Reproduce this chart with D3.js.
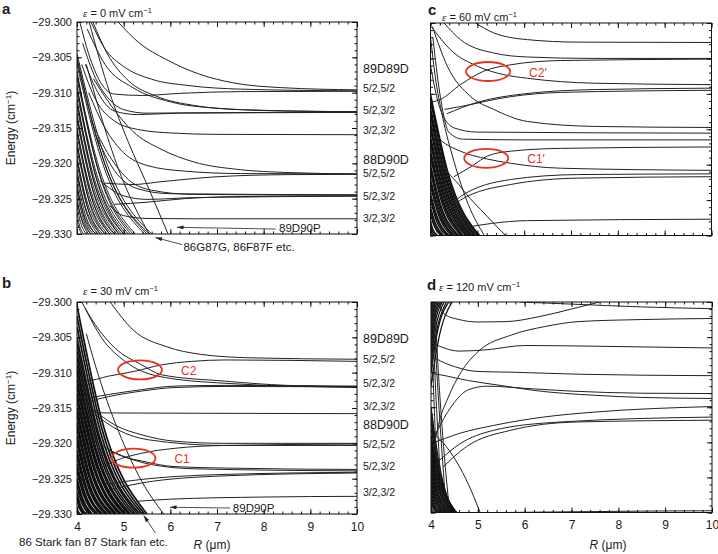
<!DOCTYPE html>
<html>
<head>
<meta charset="utf-8">
<script src="https://cdn.jsdelivr.net/npm/d3@7"></script>
<style>
  body { margin: 0; background: #fff; }
  svg { display: block; }
  text { font-family: 'Liberation Sans', Arial, sans-serif; fill: #1a1a1a; }
</style>
</head>
<body>
<div id="chart"></div>
<script>
// ---------- Data ----------
const xTicks = [4, 5, 6, 7, 8, 9, 10]
const yTicks = [-29.300, -29.305, -29.310, -29.315, -29.320, -29.325, -29.330]

// state labels drawn between the columns (text, energy)
const stateNames = ['89D89D', '5/2,5/2', '5/2,3/2', '3/2,3/2', '88D90D', '5/2,5/2', '5/2,3/2', '3/2,3/2']
const stateEnergyA = [-29.30655, -29.30938, -29.31245, -29.31538, -29.31943, -29.32141, -29.32462, -29.32778]
const stateEnergyB = [-29.30513, -29.3081, -29.3115, -29.3148, -29.3174, -29.3201, -29.3233, -29.3270]

// fields (mV/cm)
const fields = ['0', '30', '60', '120']

// isolated pair potentials [R (um), E (cm^-1)]
const curvesA = [
  [[4.88,-29.3000],[5.34,-29.3030],[5.91,-29.3053],[6.63,-29.3074],[7.34,-29.3086],[8.41,-29.3093],[10,-29.3096]],
  [[4.30,-29.3000],[4.6,-29.3038],[5.0,-29.3063],[5.6,-29.3081],[6.4,-29.3090],[7.5,-29.3095],[10,-29.30975]],
  [[4.06,-29.3000],[4.25,-29.3045],[4.5,-29.3085],[4.8,-29.3102],[5.4,-29.3104],[6.2,-29.3101],[7.5,-29.30985],[10,-29.3098]],
  [[4.34,-29.3000],[4.65,-29.3045],[5.1,-29.3083],[5.7,-29.3105],[6.5,-29.3118],[7.5,-29.3124],[10,-29.3127]],
  [[4.12,-29.3030],[4.4,-29.3080],[4.7,-29.3110],[5.0,-29.3124],[5.5,-29.3129],[6.5,-29.31285],[10,-29.31275]],
  [[4.18,-29.3060],[4.45,-29.3100],[4.8,-29.3126],[5.3,-29.3131],[6.2,-29.3129],[10,-29.3128]],
  [[4.22,-29.3010],[4.6,-29.3060],[5.2,-29.3093],[6,-29.3113],[7,-29.3122],[8.5,-29.3126],[10,-29.3127]],
  [[4.1,-29.3060],[4.4,-29.3110],[4.8,-29.3140],[5.3,-29.3152],[6,-29.3157],[7,-29.3159],[10,-29.31595]],
  [[4.35,-29.3080],[4.75,-29.3120],[5.2,-29.3155],[5.8,-29.3180],[6.5,-29.3198],[7.5,-29.3209],[8.5,-29.3213],[10,-29.3215]],
  [[4.25,-29.3100],[4.6,-29.3150],[5.0,-29.3185],[5.5,-29.3203],[6.3,-29.3211],[7.5,-29.32145],[10,-29.3215]],
  [[4.6,-29.3228],[5.2,-29.3230],[5.8,-29.3226],[7,-29.3219],[8.5,-29.3216],[10,-29.32155]],
  [[4.3,-29.3140],[4.7,-29.3190],[5.1,-29.3223],[5.6,-29.3238],[6.5,-29.3244],[10,-29.3245]],
  [[4.4,-29.3160],[4.8,-29.3210],[5.3,-29.3236],[6,-29.3243],[10,-29.32445]],
  [[4.8,-29.3258],[5.5,-29.3255],[6.3,-29.3250],[7.5,-29.3247],[10,-29.3246]],
  [[4.5,-29.3225],[5.0,-29.3246],[5.5,-29.3251],[6.5,-29.32485],[10,-29.32465]],
  [[4.7,-29.3260],[5.0,-29.3274],[5.5,-29.3278],[6.5,-29.32785],[10,-29.32785]],
  [[4.26,-29.3000],[4.7,-29.3100],[5.1,-29.3170],[5.5,-29.3230],[5.95,-29.3300]],
  [[4.2,-29.3060],[4.5,-29.3130],[4.9,-29.3210],[5.3,-29.3270],[5.55,-29.3300]]
]

const curvesB = [
  [[4.71,-29.3000],[5.21,-29.3040],[5.93,-29.30635],[6.64,-29.3074],[7.71,-29.3079],[10,-29.3081]],
  [[4.1,-29.3000],[4.39,-29.3032],[4.81,-29.3065],[5.39,-29.3089],[5.81,-29.3103],[7.17,-29.3112],[8.5,-29.3118],[10,-29.3120]],
  [[4.17,-29.30085],[4.53,-29.3051],[5.03,-29.3084],[5.74,-29.3105],[7.17,-29.3115],[10,-29.3121]],
  [[4.0,-29.3112],[4.17,-29.3112],[4.67,-29.3105],[5.24,-29.3098],[5.81,-29.3089],[6.46,-29.3084],[7.17,-29.3082],[10,-29.3084]],
  [[4.24,-29.3136],[4.67,-29.3131],[5.39,-29.3124],[6.1,-29.3119],[7.17,-29.3118],[10,-29.3119]],
  [[4.24,-29.3141],[4.67,-29.3134],[5.39,-29.3126],[6.1,-29.3121],[7.17,-29.31195],[10,-29.3120]],
  [[4.05,-29.3130],[4.25,-29.3153],[4.6,-29.3157],[7,-29.31575],[10,-29.3158]],
  [[4.31,-29.3150],[4.81,-29.3174],[5.39,-29.3188],[6.1,-29.3197],[7.17,-29.3200],[10,-29.3200]],
  [[4.38,-29.3159],[4.88,-29.3181],[5.53,-29.3195],[7.17,-29.3203],[10,-29.3203]],
  [[4.38,-29.3240],[4.81,-29.3225],[5.39,-29.3214],[6.1,-29.3207],[7.17,-29.3203],[10,-29.3201]],
  [[4.53,-29.3202],[4.88,-29.3216],[5.39,-29.3225],[6.1,-29.3233],[7.17,-29.3235],[10,-29.3237]],
  [[4.67,-29.3209],[5.39,-29.3227],[6.5,-29.3236],[10,-29.3239]],
  [[4.6,-29.3258],[5.39,-29.3251],[6.1,-29.3247],[7.17,-29.3244],[10,-29.3241]],
  [[4.67,-29.3266],[5.39,-29.3256],[7.17,-29.3246],[10,-29.3242]],
  [[5.3,-29.3282],[6,-29.3279],[8,-29.3276],[10,-29.3275]],
  [[4.2,-29.3045],[4.39,-29.3089],[4.89,-29.3183],[5.39,-29.3254],[5.86,-29.3300]]
]

const curvesC = [
  [[4.96,-29.3000],[5.35,-29.3014],[6.07,-29.30235],[7.14,-29.3027],[10,-29.30275]],
  [[4.29,-29.3000],[4.64,-29.30235],[5.35,-29.30424],[6.07,-29.3048],[7.49,-29.3050],[10,-29.3050]],
  [[4.04,-29.3007],[4.43,-29.3038],[5.0,-29.3061],[5.57,-29.3073],[6.07,-29.3078],[7.49,-29.3085],[10,-29.3087]],
  [[4.0,-29.3112],[4.21,-29.3108],[4.64,-29.3087],[5.14,-29.3068],[5.71,-29.3059],[6.78,-29.3053],[10,-29.3051]],
  [[4.3,-29.3122],[4.64,-29.3118],[5.71,-29.3104],[6.78,-29.3098],[10,-29.3095]],
  [[4.35,-29.3128],[5.0,-29.3112],[6.0,-29.3100],[7.5,-29.3094],[10,-29.3092]],
  [[4.04,-29.3005],[4.36,-29.3061],[4.86,-29.3104],[5.35,-29.3122],[6.07,-29.3139],[7.5,-29.3146],[10,-29.31475]],
  [[4.0,-29.3060],[4.2,-29.3120],[4.5,-29.3148],[5.0,-29.3154],[10,-29.31555]],
  [[4.05,-29.3020],[4.2,-29.3100],[4.4,-29.3155],[4.7,-29.3164],[6,-29.3165],[10,-29.3165]],
  [[4.5,-29.3217],[4.93,-29.3200],[5.21,-29.3188],[5.71,-29.3181],[6.78,-29.3177],[10,-29.3175]],
  [[4.0,-29.3150],[4.21,-29.3165],[4.64,-29.3181],[5.21,-29.3192],[5.71,-29.3198],[6.78,-29.3205],[10,-29.3208]],
  [[4.4,-29.3262],[4.64,-29.3245],[5.71,-29.3221],[7.14,-29.3214],[10,-29.3213]],
  [[4.45,-29.3265],[4.64,-29.3250],[5.71,-29.3228],[7.14,-29.3219],[10,-29.3217]],
  [[4.9,-29.3287],[5.3,-29.3283],[6.07,-29.3279],[10,-29.3277]],
  [[4.0,-29.3140],[4.14,-29.3179],[4.64,-29.3231],[5.21,-29.3273],[5.6,-29.3300]],
  [[4.0,-29.3020],[4.1,-29.3075],[4.25,-29.3130],[4.5,-29.3195],[4.8,-29.3255],[5.15,-29.3300]]
]

const curvesD = [
  [[5.9,-29.3000],[7,-29.3003],[8.5,-29.3007],[10,-29.30095]],
  [[4.15,-29.3000],[4.3,-29.3018],[4.6,-29.3025],[5.0,-29.30285],[5.6,-29.3028],[6.3,-29.3021],[7.0,-29.3010],[7.6,-29.3000]],
  [[4.05,-29.3210],[4.2,-29.3165],[4.36,-29.3137],[4.65,-29.3099],[5.0,-29.3071],[5.72,-29.3047],[6.43,-29.3035],[7.14,-29.3028],[8.5,-29.3025],[10,-29.30235]],
  [[4.0,-29.3203],[4.2,-29.3175],[4.5,-29.3143],[4.8,-29.3125],[5.2,-29.3120],[6,-29.3123],[7,-29.3127],[8.5,-29.3130],[10,-29.31305]],
  [[4.08,-29.3060],[4.3,-29.3066],[4.6,-29.3070],[5.2,-29.3068],[6.0,-29.3062],[7.5,-29.3063],[10,-29.30655]],
  [[4.1,-29.3080],[4.2,-29.3084],[4.5,-29.3092],[5.0,-29.3099],[5.7,-29.3100],[7.2,-29.3103],[10,-29.3105]],
  [[4.05,-29.3102],[4.3,-29.3105],[4.8,-29.3112],[5.5,-29.3119],[6.2,-29.3126],[7.5,-29.3133],[8.5,-29.3136],[10,-29.31375]],
  [[4.01,-29.3202],[4.62,-29.3187],[5.33,-29.3176],[6.4,-29.3164],[7.47,-29.3157],[10,-29.3149]],
  [[4.19,-29.3225],[4.62,-29.3202],[5.33,-29.3183],[6.76,-29.3171],[10,-29.3164]],
  [[4.26,-29.3235],[4.76,-29.3206],[5.69,-29.3183],[7.11,-29.3171],[10,-29.31685]],
  [[5.5,-29.3300],[7,-29.3299],[8.5,-29.3298],[10,-29.32975]],
  [[4.0,-29.3185],[4.25,-29.3200],[4.55,-29.3228],[4.8,-29.3260],[5.05,-29.3300]],
  [[4.01,-29.3000],[4.04,-29.3090],[4.1,-29.3200],[4.16,-29.3300]],
  [[4.03,-29.3000],[4.07,-29.3080],[4.15,-29.3190],[4.25,-29.3300]],
  [[4.05,-29.3000],[4.1,-29.3070],[4.2,-29.3180],[4.33,-29.3300]],
  [[4.08,-29.3000],[4.14,-29.3080],[4.25,-29.3190],[4.4,-29.3300]]
]

// Stark-fan / high-L lines: [E at R=4, R mid, E mid, R where E reaches -29.330]
const fanA = [
  [-29.3045,4.56,-29.3185,5.60],[-29.3050,4.53,-29.3188,5.50],[-29.3060,4.51,-29.3192,5.45],
  [-29.3070,4.40,-29.3197,5.15],[-29.3080,4.42,-29.3201,5.20],[-29.3090,4.35,-29.3206,5.00],
  [-29.3100,4.37,-29.3210,5.05],[-29.3110,4.32,-29.3215,4.90],[-29.3120,4.33,-29.3219,4.95],
  [-29.3130,4.28,-29.3224,4.80],[-29.3140,4.30,-29.3228,4.85],[-29.3150,4.25,-29.3233,4.70],
  [-29.3160,4.26,-29.3237,4.75],[-29.3170,4.21,-29.3242,4.60],[-29.3180,4.23,-29.3246,4.65],
  [-29.3190,4.18,-29.3251,4.50],[-29.3200,4.19,-29.3255,4.55],[-29.3210,4.16,-29.3260,4.45],
  [-29.3220,4.14,-29.3264,4.40],[-29.3230,4.12,-29.3269,4.35],[-29.3240,4.11,-29.3273,4.30],
  [-29.3250,4.09,-29.3278,4.25],[-29.3260,4.07,-29.3282,4.20],[-29.3270,4.05,-29.3287,4.15],
  [-29.3280,4.04,-29.3291,4.10],[-29.3055,4.54,-29.3190,5.55],[-29.3075,4.44,-29.3199,5.25],
  [-29.3095,4.39,-29.3208,5.10],[-29.3115,4.35,-29.3217,5.00],[-29.3135,4.32,-29.3226,4.90],
  [-29.3155,4.28,-29.3235,4.80],[-29.3175,4.25,-29.3244,4.70],[-29.3195,4.21,-29.3253,4.60],
  [-29.3215,4.18,-29.3262,4.50],[-29.3235,4.14,-29.3271,4.40],[-29.3255,4.11,-29.3280,4.30]
]

const fanB = [
  [-29.3005,4.53,-29.3167,5.50],[-29.3020,4.51,-29.3174,5.45],[-29.3035,4.49,-29.3181,5.40],
  [-29.3050,4.47,-29.3188,5.35],[-29.3060,4.46,-29.3192,5.30],[-29.3070,4.44,-29.3197,5.25],
  [-29.3080,4.42,-29.3201,5.20],[-29.3090,4.40,-29.3206,5.15],[-29.3095,4.39,-29.3208,5.12],
  [-29.3100,4.39,-29.3210,5.10],[-29.3110,4.37,-29.3215,5.05],[-29.3115,4.36,-29.3217,5.02],
  [-29.3120,4.35,-29.3219,5.00],[-29.3130,4.33,-29.3224,4.95],[-29.3135,4.32,-29.3226,4.92],
  [-29.3140,4.32,-29.3228,4.90],[-29.3150,4.30,-29.3233,4.85],[-29.3155,4.29,-29.3235,4.82],
  [-29.3160,4.28,-29.3237,4.80],[-29.3170,4.26,-29.3242,4.75],[-29.3175,4.25,-29.3244,4.72],
  [-29.3180,4.25,-29.3246,4.70],[-29.3190,4.23,-29.3251,4.65],[-29.3195,4.22,-29.3253,4.62],
  [-29.3200,4.21,-29.3255,4.60],[-29.3210,4.19,-29.3260,4.55],[-29.3215,4.18,-29.3262,4.52],
  [-29.3220,4.18,-29.3264,4.50],[-29.3230,4.16,-29.3269,4.45],[-29.3235,4.15,-29.3271,4.42],
  [-29.3240,4.14,-29.3273,4.40],[-29.3250,4.12,-29.3278,4.33],[-29.3255,4.11,-29.3280,4.30],
  [-29.3260,4.09,-29.3282,4.27],[-29.3270,4.07,-29.3287,4.20],[-29.3275,4.06,-29.3289,4.16],
  [-29.3280,4.05,-29.3291,4.13],[-29.3290,4.02,-29.3296,4.07]
]

const fanC = [
  [-29.3100,4.37,-29.3210,5.05],[-29.3105,4.36,-29.3212,5.03],[-29.3110,4.35,-29.3215,5.00],
  [-29.3120,4.34,-29.3219,4.96],[-29.3125,4.33,-29.3221,4.94],[-29.3130,4.32,-29.3224,4.92],
  [-29.3140,4.31,-29.3228,4.88],[-29.3145,4.30,-29.3230,4.86],[-29.3150,4.29,-29.3233,4.84],
  [-29.3160,4.28,-29.3237,4.80],[-29.3165,4.27,-29.3239,4.78],[-29.3170,4.26,-29.3242,4.75],
  [-29.3180,4.25,-29.3246,4.70],[-29.3185,4.24,-29.3248,4.68],[-29.3190,4.23,-29.3251,4.65],
  [-29.3200,4.21,-29.3255,4.60],[-29.3205,4.20,-29.3257,4.58],[-29.3210,4.19,-29.3260,4.55],
  [-29.3220,4.18,-29.3264,4.50],[-29.3225,4.17,-29.3266,4.48],[-29.3230,4.16,-29.3269,4.45],
  [-29.3240,4.14,-29.3273,4.40],[-29.3245,4.13,-29.3275,4.38],[-29.3250,4.12,-29.3278,4.35],
  [-29.3260,4.10,-29.3282,4.28],[-29.3265,4.09,-29.3284,4.25],[-29.3270,4.08,-29.3287,4.22],
  [-29.3280,4.05,-29.3291,4.15],[-29.3285,4.04,-29.3293,4.11],[-29.3290,4.03,-29.3296,4.08]
]

const fanD = [
  [-29.3150,4.18,-29.3233,4.50],[-29.3160,4.16,-29.3237,4.47],[-29.3170,4.18,-29.3242,4.50],
  [-29.3180,4.19,-29.3246,4.54],[-29.3190,4.19,-29.3251,4.55],[-29.3195,4.19,-29.3253,4.53],
  [-29.3200,4.18,-29.3255,4.52],[-29.3205,4.18,-29.3257,4.50],[-29.3210,4.17,-29.3260,4.48],
  [-29.3215,4.16,-29.3262,4.46],[-29.3220,4.16,-29.3264,4.45],[-29.3225,4.15,-29.3266,4.42],
  [-29.3230,4.14,-29.3269,4.40],[-29.3235,4.13,-29.3271,4.38],[-29.3240,4.13,-29.3273,4.36],
  [-29.3245,4.12,-29.3275,4.33],[-29.3250,4.11,-29.3278,4.31],[-29.3255,4.10,-29.3280,4.28],
  [-29.3260,4.09,-29.3282,4.26],[-29.3265,4.08,-29.3284,4.23],[-29.3270,4.07,-29.3287,4.20],
  [-29.3275,4.06,-29.3289,4.17],[-29.3280,4.05,-29.3291,4.14],[-29.3285,4.04,-29.3293,4.10],
  [-29.3290,4.02,-29.3296,4.07]
]

// lines climbing out of the top edge: [E at R=4, R mid, E mid, R where E reaches -29.300]
const fanUpD = [
  [-29.3020,4.02,-29.3009,4.06],[-29.3030,4.04,-29.3014,4.10],[-29.3040,4.05,-29.3018,4.13],
  [-29.3050,4.06,-29.3023,4.16],[-29.3060,4.07,-29.3027,4.20],[-29.3070,4.08,-29.3032,4.24],
  [-29.3080,4.10,-29.3036,4.28],[-29.3090,4.12,-29.3041,4.33],[-29.3100,4.13,-29.3045,4.38],
  [-29.3120,4.16,-29.3054,4.45]
]

// avoided crossings marked in red: label, R, E
const crossingsB = [['C2', 5.35, -29.3096], ['C1', 5.21, -29.3221]]
const crossingsC = [['C2\u2032', 5.23, -29.30685], ['C1\u2032', 5.19, -29.3191]]

// ---------- Drawing ----------
const svg = d3.select('#chart')
  .append('svg')
  .attr('width', 718)
  .attr('height', 554)

svg.append('defs').append('marker')
  .attr('id', 'arrow')
  .attr('viewBox', '0 0 10 6')
  .attr('refX', 10)
  .attr('refY', 3)
  .attr('markerWidth', 9)
  .attr('markerHeight', 5)
  .attr('orient', 'auto')
  .append('path')
  .attr('d', 'M0,0L10,3L0,6Z')
  .attr('fill', '#222')

const panels = [
  { key: 'a', left: 77, top: 22, w: 280, h: 212, curves: curvesA, fan: fanA, fanUp: [], fanWidth: 0.9, field: fields[0], yLabels: true, xLabels: false, letter: [2, 14], title: [83, 17] },
  { key: 'b', left: 77, top: 302, w: 280, h: 212, curves: curvesB, fan: fanB, fanUp: [], fanWidth: 1.7, field: fields[1], yLabels: true, xLabels: true, letter: [2, 288], title: [83, 295], rLabel: 212, crossings: crossingsB },
  { key: 'c', left: 430.5, top: 23, w: 281, h: 212.5, curves: curvesC, fan: fanC, fanUp: [], fanWidth: 1.4, field: fields[2], yLabels: false, xLabels: false, letter: [428, 15], title: [442, 21], crossings: crossingsC },
  { key: 'd', left: 431, top: 302, w: 281, h: 210.5, curves: curvesD, fan: fanD, fanUp: fanUpD, fanWidth: 1.3, field: fields[3], yLabels: false, xLabels: true, letter: [427, 290], title: [439, 291], rLabel: 608 }
]

const yMinor = d3.range(0, 31).map(i => -29.300 - i * 0.001)
const xMinor = d3.range(0, 31).map(i => 4 + i * 0.2)
const yFormat = d3.format('.3f')

panels.forEach(p => {
  const xScale = d3.scaleLinear().domain([4, 10]).range([0, p.w])
  const yScale = d3.scaleLinear().domain([-29.300, -29.330]).range([0, p.h])

  const ctr = svg.append('g')
    .attr('transform', `translate(${p.left}, ${p.top})`)

  ctr.append('clipPath')
    .attr('id', 'clip-' + p.key)
    .append('rect')
    .attr('width', p.w)
    .attr('height', p.h)

  const plot = ctr.append('g').attr('clip-path', `url(#clip-${p.key})`)

  const line = d3.line()
    .x(d => xScale(d[0]))
    .y(d => yScale(d[1]))
    .curve(d3.curveMonotoneX)

  const fanLines = p.fan.map(([e0, rm, em, re]) => [[4, e0], [rm, em], [re, -29.330]])
    .concat(p.fanUp.map(([e0, rm, em, re]) => [[4, e0], [rm, em], [re, -29.300]]))

  plot.append('g')
    .selectAll('path')
    .data(fanLines)
    .join('path')
    .attr('d', line)
    .attr('fill', 'none')
    .attr('stroke', '#111')
    .attr('stroke-width', p.fanWidth)

  plot.append('g')
    .selectAll('path')
    .data(p.curves)
    .join('path')
    .attr('d', line)
    .attr('fill', 'none')
    .attr('stroke', '#222')
    .attr('stroke-width', 1)

  // Axes: inward ticks on all four sides
  const addAxis = (axis, transform) => {
    const g = ctr.append('g').attr('transform', transform).call(axis)
    g.select('.domain').remove()
    g.selectAll('.tick line').attr('stroke', '#111')
    g.selectAll('.tick text').style('font-size', '11px').attr('fill', '#1a1a1a')
    return g
  }

  addAxis(d3.axisLeft(yScale).tickValues(yMinor).tickSize(-2.5).tickFormat(''), '')
  addAxis(d3.axisLeft(yScale).tickValues(yTicks).tickSize(-5).tickPadding(5)
    .tickFormat(d => p.yLabels ? yFormat(d) : ''), '')
  addAxis(d3.axisRight(yScale).tickValues(yMinor).tickSize(-2.5).tickFormat(''), `translate(${p.w},0)`)
  addAxis(d3.axisRight(yScale).tickValues(yTicks).tickSize(-5).tickFormat(''), `translate(${p.w},0)`)
  addAxis(d3.axisTop(xScale).tickValues(xMinor).tickSize(-2.5).tickFormat(''), '')
  addAxis(d3.axisTop(xScale).tickValues(xTicks).tickSize(-5).tickFormat(''), '')
  addAxis(d3.axisBottom(xScale).tickValues(xMinor).tickSize(-2.5).tickFormat(''), `translate(0,${p.h})`)
  addAxis(d3.axisBottom(xScale).tickValues(xTicks).tickSize(-5).tickPadding(8)
    .tickFormat(d => p.xLabels ? d : ''), `translate(0,${p.h})`)
    .selectAll('.tick text').style('font-size', '12px')

  ctr.append('rect')
    .attr('width', p.w)
    .attr('height', p.h)
    .attr('fill', 'none')
    .attr('stroke', '#111')
    .attr('stroke-width', 1)

  // red ellipses at avoided crossings
  if (p.crossings) {
    const cg = ctr.append('g')
    cg.selectAll('ellipse')
      .data(p.crossings)
      .join('ellipse')
      .attr('cx', d => xScale(d[1]))
      .attr('cy', d => yScale(d[2]))
      .attr('rx', 22)
      .attr('ry', 9.5)
      .attr('fill', 'none')
      .attr('stroke', '#e53323')
      .attr('stroke-width', 1.8)
    cg.selectAll('text')
      .data(p.crossings)
      .join('text')
      .text(d => d[0])
      .attr('x', d => xScale(d[1]) + 41)
      .attr('y', d => yScale(d[2]) + 1)
      .attr('dy', '0.35em')
      .style('font-size', '12px')
      .style('fill', '#e53323')
  }

  // panel letter and field
  svg.append('text')
    .text(p.key)
    .attr('x', p.letter[0])
    .attr('y', p.letter[1])
    .style('font-size', '15px')
    .style('font-weight', 'bold')

  const t = svg.append('text')
    .attr('x', p.title[0])
    .attr('y', p.title[1])
    .style('font-size', '11px')
  t.append('tspan').text('\u03b5').style('font-style', 'italic').style('font-family', "'Liberation Serif', serif")
  t.append('tspan').text(` = ${p.field} mV cm`)
  t.append('tspan').text('\u22121').attr('dy', -4).style('font-size', '7.5px')

  if (p.rLabel) {
    const r = svg.append('text')
      .attr('x', p.rLabel)
      .attr('y', 549)
      .attr('text-anchor', 'middle')
      .style('font-size', '12px')
    r.append('tspan').text('R').style('font-style', 'italic')
    r.append('tspan').text(' (\u03bcm)')
  }

  if (p.yLabels) {
    const e = svg.append('text')
      .attr('transform', `translate(15, ${p.top + p.h / 2}) rotate(-90)`)
      .attr('text-anchor', 'middle')
      .style('font-size', '12px')
    e.append('tspan').text('Energy (cm')
    e.append('tspan').text('\u22121').attr('dy', -4).style('font-size', '8px')
    e.append('tspan').text(')').attr('dy', 4)
  }

  p.xScale = xScale
  p.yScale = yScale
})

// state labels between the columns
const pa = panels[0], pb = panels[1]
;[[pa, stateEnergyA], [pb, stateEnergyB]].forEach(([p, energies]) => {
  svg.append('g')
    .selectAll('text')
    .data(stateNames)
    .join('text')
    .text(d => d)
    .attr('x', 363)
    .attr('y', (d, i) => p.top + p.yScale(energies[i]))
    .attr('dy', '0.35em')
    .style('font-size', d => d.includes('D') ? '12.5px' : '10.5px')
})

// arrows and notes
const notes = [
  { p: pa, from: [8.26, -29.3293], to: [6.14, -29.32905], text: '89D90P', at: [8.33, -29.3292], anchor: 'start' },
  { p: pa, from: [6.25, -29.3315], to: [5.68, -29.3305], text: '86G87G, 86F87F etc.', at: [6.28, -29.3318], anchor: 'start' },
  { p: pb, from: [7.28, -29.32915], to: [5.99, -29.32905], text: '89D90P', at: [7.34, -29.3291], anchor: 'start' },
  { p: pb, from: [5.68, -29.3327], to: [5.43, -29.3302], text: '86 Stark fan 87 Stark fan etc.', at: [5.95, -29.3339], anchor: 'end' }
]

notes.forEach(n => {
  const ox = n.p.left, oy = n.p.top
  svg.append('line')
    .attr('x1', ox + n.p.xScale(n.from[0]))
    .attr('y1', oy + n.p.yScale(n.from[1]))
    .attr('x2', ox + n.p.xScale(n.to[0]))
    .attr('y2', oy + n.p.yScale(n.to[1]))
    .attr('stroke', '#222')
    .attr('stroke-width', 0.8)
    .attr('marker-end', 'url(#arrow)')
  svg.append('text')
    .text(n.text)
    .attr('x', ox + n.p.xScale(n.at[0]))
    .attr('y', oy + n.p.yScale(n.at[1]))
    .attr('dy', '0.35em')
    .attr('text-anchor', n.anchor)
    .style('font-size', '11.5px')
})
</script>
</body>
</html>
